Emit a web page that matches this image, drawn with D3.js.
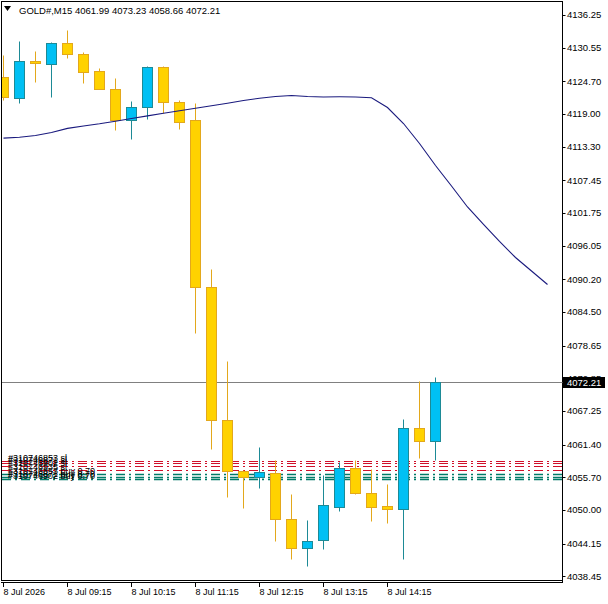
<!DOCTYPE html>
<html>
<head>
<meta charset="utf-8">
<script src="https://cdn.jsdelivr.net/npm/d3@7"></script>
<style>
  body { margin: 0; background: #fff; }
  svg { display: block; }
  text { font-family: "Liberation Sans", Arial, sans-serif; }
</style>
</head>
<body>
<div id="main"></div>
<script>
// GOLD#, M15 bars, 8 Jul 2026 08:15 .. 15:00
const times = ["08:15","08:30","08:45","09:00","09:15","09:30","09:45","10:00","10:15","10:30",
  "10:45","11:00","11:15","11:30","11:45","12:00","12:15","12:30","12:45","13:00",
  "13:15","13:30","13:45","14:00","14:15","14:30","14:45","15:00"];
const opens  = [4125.43,4121.78,4128.22,4127.70,4131.36,4129.44,4126.48,4123.34,4117.94,4120.21,
  4127.18,4121.08,4117.94,4088.85,4065.68,4056.79,4055.75,4056.44,4048.43,4043.38,
  4044.77,4050.52,4057.31,4052.96,4050.69,4050.17,4064.28,4061.99];
const highs  = [4129.27,4131.71,4129.97,4131.53,4133.62,4129.79,4127.00,4125.26,4121.25,4127.30,
  4127.30,4121.43,4120.90,4091.98,4075.96,4056.90,4060.97,4058.71,4052.78,4048.25,
  4056.09,4058.36,4058.71,4057.14,4054.53,4065.85,4072.47,4073.23];
const lows   = [4121.43,4120.90,4124.56,4121.95,4128.74,4124.39,4123.26,4116.20,4114.63,4118.12,
  4119.16,4116.37,4080.83,4060.62,4052.26,4050.35,4053.83,4044.60,4041.46,4040.24,
  4043.20,4049.82,4052.80,4048.08,4047.73,4041.46,4059.06,4058.66];
const closes = [4121.95,4128.22,4127.87,4131.36,4129.44,4126.31,4123.34,4117.94,4120.21,4127.18,
  4121.08,4117.59,4088.85,4065.68,4056.79,4055.75,4056.62,4048.43,4043.38,4044.60,
  4050.87,4057.31,4052.96,4050.52,4050.17,4064.28,4061.99,4072.21];

// moving average, drawn 7 bars past the last candle
const maValues = [4114.79,4114.95,4115.24,4115.77,4116.48,4116.91,4117.28,4117.73,4118.19,4118.66,
  4119.11,4119.55,4119.98,4120.42,4120.87,4121.34,4121.74,4122.04,4122.21,4122.04,
  4121.95,4121.98,4121.95,4121.81,4120.12,4117.33,4113.85,4110.02,4106.44,4102.79,
  4099.74,4096.78,4093.99,4091.64,4089.28];

// order lines
const slLevels  = [4058.62, 4058.10, 4057.58, 4057.05];
const slLabels  = ["#310746853 sl", "#310746871 sl", "#310746902 sl", "#310746935 sl"];
const buyLevels = [4056.27, 4055.83, 4055.40];
const buyLabels = ["#310746853 buy 0.70", "#310746871 buy 0.70", "#310746902 buy 0.70"];

const priceTicks = [4136.25,4130.55,4124.70,4119.00,4113.30,4107.45,4101.75,4096.05,4090.20,
  4084.50,4078.65,4072.85,4067.25,4061.40,4055.70,4050.00,4044.15,4038.45];
const timeTickBars = [0, 4, 8, 12, 16, 20, 24];
const timeTickLabels = ["8 Jul 2026","8 Jul 09:15","8 Jul 10:15","8 Jul 11:15","8 Jul 12:15","8 Jul 13:15","8 Jul 14:15"];

const symbol = "GOLD#,M15";
const lastPrice = 4072.21;

const W = 608, H = 604;
const plot = { left: 1.5, top: 1.5, right: 562.5, bottom: 580.5 };

const x = d3.scaleLinear().domain([0, 34]).range([3.5, 547.5]);
const y = d3.scaleLinear().domain([4038.15, 4138.5]).range([578, 2]);
const py = v => Math.round(y(v)) + 0.5;

const svg = d3.select("#main").append("svg").attr("width", W).attr("height", H);
svg.append("rect").attr("width", W).attr("height", H).attr("fill", "#fff");

svg.append("clipPath").attr("id", "clip")
  .append("rect").attr("x", 2).attr("y", 2).attr("width", 560).attr("height", 578);

const g = svg.append("g").attr("clip-path", "url(#clip)");

// order lines (sl red, buy green)
g.selectAll(".sl").data(slLevels).enter().append("line")
  .attr("x1", 2).attr("x2", 562).attr("y1", d => py(d)).attr("y2", d => py(d))
  .attr("stroke", "#d0102a").attr("stroke-dasharray", "9,4,2,4");
g.selectAll(".buy").data(buyLevels).enter().append("line")
  .attr("x1", 2).attr("x2", 562).attr("y1", d => py(d)).attr("y2", d => py(d))
  .attr("stroke", "#007a68").attr("stroke-width", 1.4).attr("stroke-dasharray", "9,4,2,4");

// current price line
g.append("line").attr("x1", 2).attr("x2", 562)
  .attr("y1", py(lastPrice)).attr("y2", py(lastPrice)).attr("stroke", "#808080");

// candles
const bars = d3.range(times.length);
const bull = i => closes[i] >= opens[i];

g.selectAll(".wick").data(bars).enter().append("line")
  .attr("x1", i => x(i)).attr("x2", i => x(i))
  .attr("y1", i => py(highs[i])).attr("y2", i => py(lows[i]))
  .attr("stroke", i => bull(i) ? "#1d8a96" : "#e3a81c");

g.selectAll(".body").data(bars).enter().append("rect")
  .attr("x", i => x(i) - 5)
  .attr("width", 10)
  .attr("y", i => py(Math.max(opens[i], closes[i])))
  .attr("height", i => Math.max(1, py(Math.min(opens[i], closes[i])) - py(Math.max(opens[i], closes[i]))))
  .attr("fill", i => bull(i) ? "#00c0f4" : "#ffd200")
  .attr("stroke", i => bull(i) ? "#1d8a96" : "#e3a81c");

// moving average
g.append("path").datum(maValues)
  .attr("fill", "none").attr("stroke", "#1a1a7e").attr("stroke-width", 1.1)
  .attr("d", d3.line().x((d, i) => x(i)).y(d => y(d)));

// order labels
g.selectAll(".sllab").data(slLevels).enter().append("text")
  .attr("x", 8).attr("y", d => py(d) - 1)
  .attr("font-size", 9).attr("fill", "#000")
  .text((d, i) => slLabels[i]);
g.selectAll(".buylab").data(buyLevels).enter().append("text")
  .attr("x", 8).attr("y", d => py(d) - 1)
  .attr("font-size", 9).attr("fill", "#000")
  .text((d, i) => buyLabels[i]);

// frame
svg.append("rect").attr("x", plot.left).attr("y", plot.top)
  .attr("width", plot.right - plot.left).attr("height", plot.bottom - plot.top)
  .attr("fill", "none").attr("stroke", "#000");
svg.append("line").attr("x1", 1).attr("x2", 563).attr("y1", 582.5).attr("y2", 582.5).attr("stroke", "#000");
svg.append("line").attr("x1", plot.right).attr("x2", plot.right).attr("y1", 1).attr("y2", 583).attr("stroke", "#000");

// price axis
const yAxis = svg.append("g");
yAxis.selectAll("line").data(priceTicks).enter().append("line")
  .attr("x1", plot.right).attr("x2", plot.right + 3)
  .attr("y1", d => py(d)).attr("y2", d => py(d)).attr("stroke", "#000");
yAxis.selectAll("text").data(priceTicks).enter().append("text")
  .attr("x", 567).attr("y", d => y(d)).attr("dy", "0.35em")
  .attr("font-size", 9.5).attr("fill", "#000")
  .text(d => d.toFixed(2));

// time axis
const xAxis = svg.append("g");
xAxis.selectAll("line").data(timeTickBars).enter().append("line")
  .attr("x1", d => x(d)).attr("x2", d => x(d))
  .attr("y1", 583).attr("y2", 587).attr("stroke", "#000");
xAxis.selectAll("text").data(timeTickBars).enter().append("text")
  .attr("x", d => x(d)).attr("y", 595)
  .attr("font-size", 9).attr("fill", "#000")
  .text((d, i) => timeTickLabels[i]);

// last price tag
svg.append("line").attr("x1", plot.right).attr("x2", 564)
  .attr("y1", py(lastPrice)).attr("y2", py(lastPrice)).attr("stroke", "#808080");
svg.append("rect").attr("x", 563).attr("y", py(lastPrice) - 5.5)
  .attr("width", 42).attr("height", 11).attr("fill", "#000");
svg.append("text").attr("x", 567).attr("y", y(lastPrice)).attr("dy", "0.35em")
  .attr("font-size", 9.5).attr("fill", "#fff").text(lastPrice.toFixed(2));

// header
svg.append("path").attr("d", "M4,6 L11,6 L7.5,11 Z").attr("fill", "#000");
svg.append("text").attr("x", 19).attr("y", 13.5).attr("font-size", 9.5).attr("fill", "#000")
  .text(symbol + "  " + [opens[27], highs[27], lows[27], closes[27]].map(v => v.toFixed(2)).join(" "));
</script>
</body>
</html>
